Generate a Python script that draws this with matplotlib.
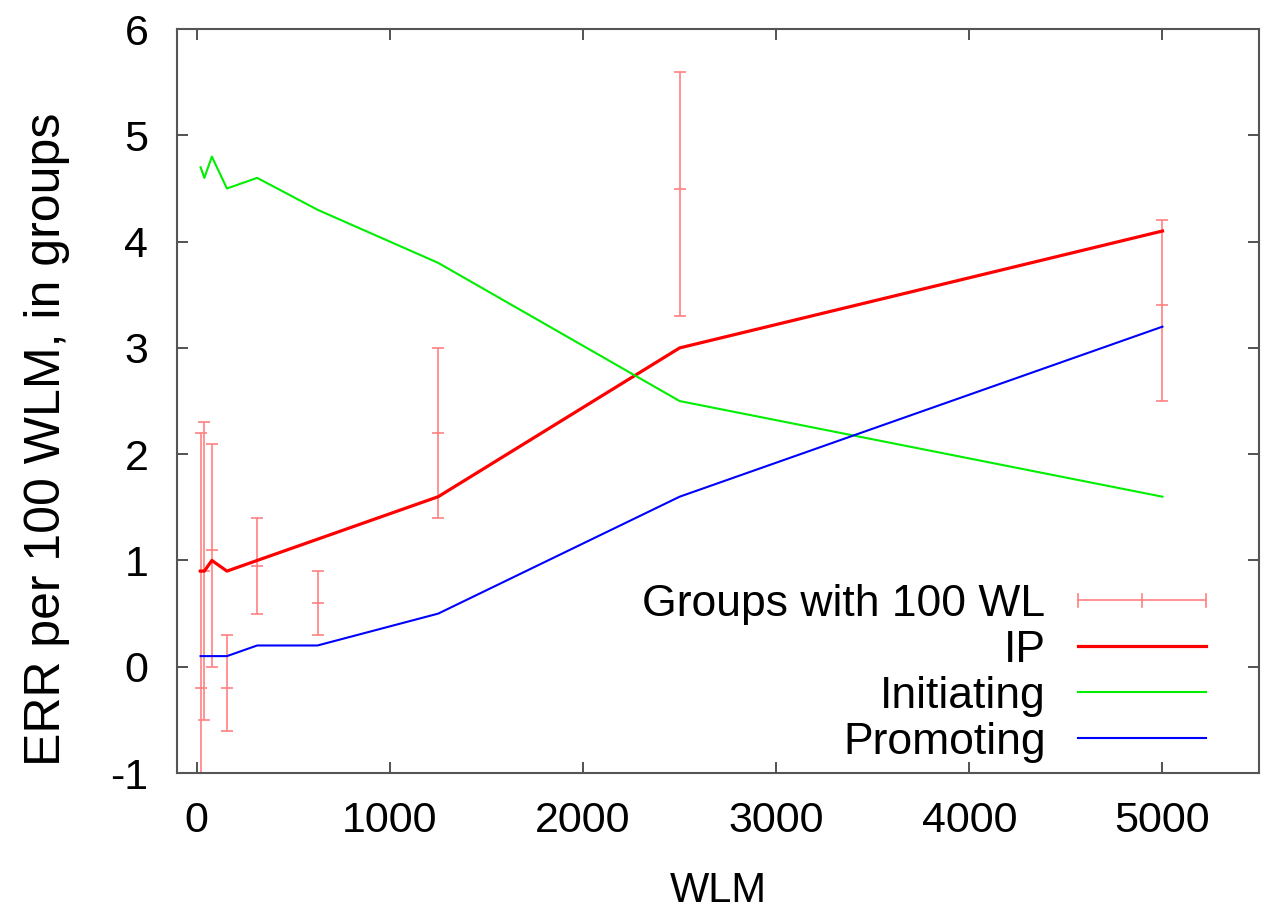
import numpy as np
import matplotlib
matplotlib.use('Agg')
import matplotlib.pyplot as plt
from matplotlib.legend_handler import HandlerBase
from matplotlib.lines import Line2D

plt.rcParams['font.family'] = ['Liberation Sans', 'DejaVu Sans']
plt.rcParams['axes.unicode_minus'] = False

# data
wlm = [19.5, 39, 78, 156, 312.5, 625, 1250, 2500, 5000]
ip = [0.9, 0.9, 1.0, 0.9, 1.0, 1.2, 1.6, 3.0, 4.1]
initiating = [4.7, 4.6, 4.8, 4.5, 4.6, 4.3, 3.8, 2.5, 1.6]
promoting = [0.1, 0.1, 0.1, 0.1, 0.2, 0.2, 0.5, 1.6, 3.2]

# groups with 100 WL: centre, lower and upper end of the bar
grp_mid = [-0.2, 0.9, 1.1, -0.2, 0.95, 0.6, 2.2, 4.5, 3.4]
grp_low = [-2.6, -0.5, 0.0, -0.6, 0.5, 0.3, 1.4, 3.3, 2.5]
grp_high = [2.2, 2.3, 2.1, 0.3, 1.4, 0.9, 3.0, 5.6, 4.2]

err_col = '#ff8080'


class HandlerHErr(HandlerBase):
    # gnuplot style sample: horizontal bar with end caps and a centre tick
    def create_artists(self, legend, orig, xdescent, ydescent, width, height, fontsize, trans):
        y = height / 2 - ydescent
        h = 0.3 * fontsize
        arts = [Line2D([-xdescent, width - xdescent], [y, y], color=err_col, lw=1.2)]
        for xx in [-xdescent, width / 2 - xdescent, width - xdescent]:
            arts.append(Line2D([xx, xx], [y - h / 2, y + h / 2], color=err_col, lw=1.2))
        for a in arts:
            a.set_transform(trans)
        return arts


fig = plt.figure(figsize=(12.66, 9.09), dpi=100)
ax = fig.add_axes([0.1402, 0.1496, 0.8543, 0.8184])

lo = np.array(grp_mid) - np.array(grp_low)
hi = np.array(grp_high) - np.array(grp_mid)
eb = ax.errorbar(wlm, grp_mid, yerr=[lo, hi], fmt='_', ms=9, mew=1.2, color=err_col,
                 ecolor=err_col, elinewidth=1.2, capsize=4.5, capthick=1.2, zorder=2)
l_ip, = ax.plot(wlm, ip, color='#ff0000', lw=2.3, zorder=3)
l_in, = ax.plot(wlm, initiating, color='#00ee00', lw=1.5, zorder=3)
l_pr, = ax.plot(wlm, promoting, color='#0000ff', lw=1.5, zorder=3)

ax.set_xlim(-100, 5500)
ax.set_ylim(-1, 6)
ax.set_xticks([0, 1000, 2000, 3000, 4000, 5000])
ax.set_yticks(range(-1, 7))
ax.tick_params(direction='in', top=True, right=True, length=8, width=1.3,
               color='#444444', labelsize=31, pad=20)
ax.tick_params(axis='y', pad=21)
for s in ax.spines.values():
    s.set_color('#555555')
    s.set_linewidth(1.5)

ax.set_xlabel('WLM', fontsize=30, labelpad=22)
ax.set_ylabel('ERR per 100 WLM, in groups', fontsize=36)
ax.yaxis.set_label_coords(-0.099, 0.449)

ax.legend([eb, l_ip, l_in, l_pr], ['Groups with 100 WL', 'IP', 'Initiating', 'Promoting'],
          handler_map={type(eb): HandlerHErr()}, loc='lower right',
          bbox_to_anchor=(0.967, -0.01), frameon=False, markerfirst=False,
          fontsize=32, handlelength=2.86, handletextpad=0.74, labelspacing=0.11,
          borderaxespad=0)

plt.savefig('out.png', dpi=100)
